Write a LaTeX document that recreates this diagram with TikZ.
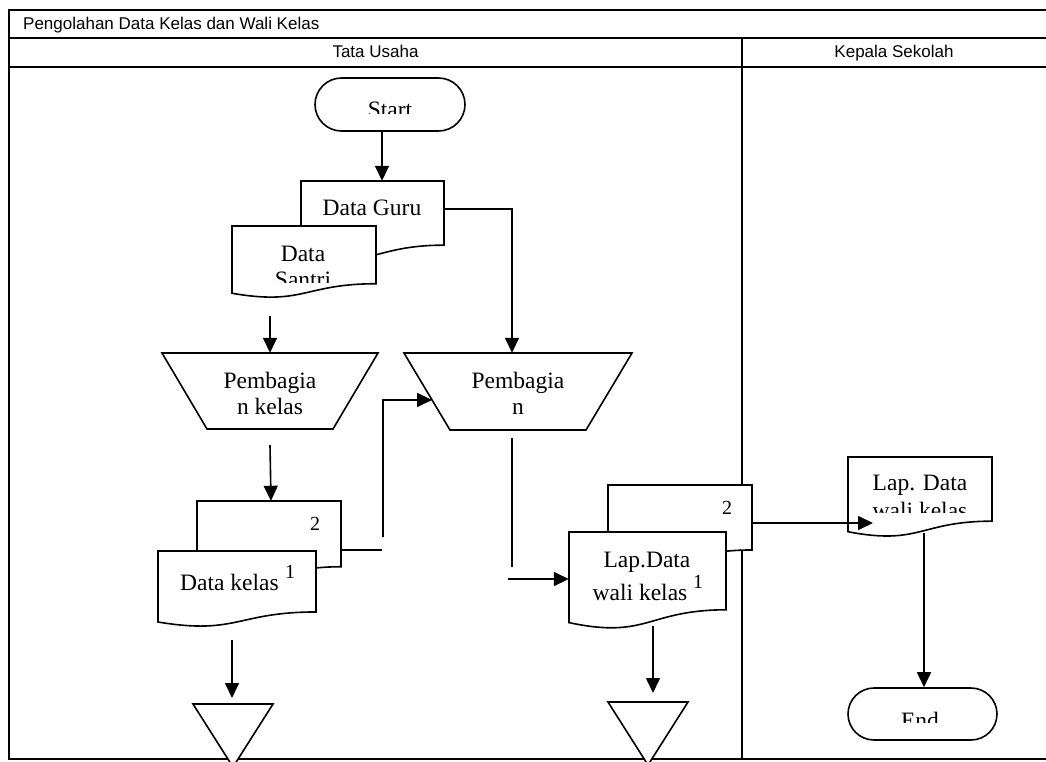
\documentclass[tikz,border=0pt]{standalone}
\usepackage{fontspec}
\setmainfont{Liberation Serif}
\newfontfamily\lanesans{Liberation Sans}
\usetikzlibrary{arrows.meta,calc}

\tikzset{
  frameline/.style={line width=2.6pt},
  shapeline/.style={draw, line width=1.6pt, fill=white},
  flow/.style={line width=1.6pt, -{Triangle[length=15pt,width=14pt]}},
  plain/.style={line width=1.6pt},
  lanefont/.style={font=\lanesans\fontsize{17}{20}\selectfont, inner sep=0pt},
  shapefont/.style={font=\fontsize{23.5}{26}\selectfont, inner sep=0pt},
  numfont/.style={font=\fontsize{20}{22}\selectfont, inner sep=0pt},
}

% document symbol: name, left x, top y, width, height
\newcommand\docbox[5]{%
  \draw[shapeline] (#2,#3) -- ({#2+#4},#3) -- ({#2+#4},{#3+0.802*#5})
    .. controls ({#2+#4/2},{#3+0.802*#5}) and ({#2+#4/2},{#3+1.108*#5}) .. (#2,{#3+0.934*#5}) -- cycle;
  \node[inner sep=0pt, minimum width=#4pt, minimum height={0.8*#5pt}] (#1) at ({#2+#4/2},{#3+0.4*#5}) {};
}
% manual operation: name, top y, top left, top right, bottom y, bottom left, bottom right
\newcommand\trapbox[7]{%
  \draw[shapeline] (#3,#2) -- (#4,#2) -- (#7,#5) -- (#6,#5) -- cycle;
  \coordinate (#1-tl) at (#3,#2);
  \coordinate (#1-bl) at (#6,#5);
  \node[inner sep=0pt, minimum width={(#4-#3)*1pt}, minimum height={(#5-#2)*1pt}] (#1) at ({(#3+#4)/2},{(#2+#5)/2}) {};
}
% off-page connector: name, left x, right x, top y, apex y
\newcommand\offpage[5]{%
  \draw[shapeline] (#2,#4) -- (#3,#4) -- ({(#2+#3)/2},#5) -- cycle;
  \coordinate (#1) at ({(#2+#3)/2},#4);
}

\begin{document}
\begin{tikzpicture}[x=1pt,y=-1pt]
\useasboundingbox (0,0) rectangle (1046,761);
\begin{scope}
\clip (0,0) rectangle (1046,761);

% swimlane frame
\draw[frameline] (1050,10) -- (9,10) -- (9,759) -- (1050,759);
\draw[frameline] (9,38) -- (1050,38);
\draw[frameline] (9,67) -- (1050,67);
\draw[frameline] (742,38) -- (742,759);
\node[lanefont, anchor=base west] (title) at (23,29.5) {Pengolahan Data Kelas dan Wali Kelas};
\node[lanefont, anchor=base] (laneTU) at (375.5,57.5) {Tata Usaha};
\node[lanefont, anchor=base] (laneKS) at (894,57.5) {Kepala Sekolah};

% start
\node[shapeline, rounded corners=26.5pt, minimum width=150pt, minimum height=53pt, inner sep=0pt] (start) at (390,104.5) {};
\begin{scope}
  \clip (300,70) rectangle (480,113);
  \node[shapefont, anchor=base] (startlbl) at (390,117.6) {Start};
\end{scope}

% input documents
\docbox{guru}{301}{181}{143}{80}
\node[shapefont, anchor=base] (gurulbl) at (372,215) {Data Guru};
\docbox{santri}{232}{226}{144}{72}
\node[shapefont, anchor=base] (santrilbl) at (303,261) {Data};
\begin{scope}
  \clip (232,262) rectangle (376,282);
  \node[shapefont, anchor=base] (santrilbl2) at (303,287) {Santri};
\end{scope}

% manual operations
\trapbox{pk}{353}{162}{378}{429}{207}{333}
\node[shapefont, anchor=base] (pklbl1) at (270,388) {Pembagia};
\node[shapefont, anchor=base] (pklbl2) at (270,414) {n kelas};
\trapbox{pb}{353}{404}{632}{430}{450}{586}
\node[shapefont, anchor=base] (pblbl1) at (518,388) {Pembagia};
\node[shapefont, anchor=base] (pblbl2) at (518,414) {n};

% class data, two copies
\docbox{dk2}{197}{501}{144}{82}
\node[numfont, anchor=base] (dk2num) at (315,530) {2};
\docbox{dk1}{158}{551}{158}{76}
\node[shapefont, anchor=base west] (dk1lbl) at (180,590) {Data kelas};
\node[numfont, anchor=base] (dk1num) at (290,578) {1};

% homeroom report, two copies
\docbox{ld2}{608}{485}{144}{81}
\node[numfont, anchor=base] (ld2num) at (727,514) {2};
\docbox{ld1}{569}{532}{157}{97}
\node[shapefont, anchor=base] (ld1lbl1) at (647,567) {Lap.Data};
\node[shapefont, anchor=base] (ld1lbl2) at (640,600) {wali kelas};
\node[numfont, anchor=base] (ld1num) at (698,588) {1};

% report received by the principal
\docbox{lk}{848}{457}{144}{80}
\node[shapefont, anchor=base] (lklbl1) at (920,490) {Lap. Data};
\begin{scope}
  \clip (848,492) rectangle (992,512);
  \node[shapefont, anchor=base] (lklbl2) at (920,518) {wali kelas};
\end{scope}

% end
\node[shapeline, rounded corners=26pt, minimum width=149pt, minimum height=52pt, inner sep=0pt] (end) at (922.5,714) {};
\begin{scope}
  \clip (848,700) rectangle (997,722);
  \node[shapefont, anchor=base] (endlbl) at (920,728.6) {End};
\end{scope}

% off-page connectors
\offpage{t1}{193}{273}{704}{767}
\offpage{t2}{608}{688}{702}{765}

% connector end points
\coordinate (s1) at (270,316);
\coordinate (c1) at (382,550);
\coordinate (c2) at (383,537);
\coordinate (c3) at (383,400);
\coordinate (pbin) at ($(pb-tl)!0.61!(pb-bl)$);
\coordinate (c4) at (512,567);
\coordinate (c5) at (508,579);
\coordinate (c6) at (873,523);
\coordinate (lkb) at (924,533);
\coordinate (d1) at (232,640);
\coordinate (d2) at (653,626);

% connectors
\draw[flow] ([xshift=-8pt]start.south) -- ([xshift=-8pt]start.south |- guru.north);
\draw[flow] ([yshift=4pt]guru.east) -| ([xshift=-6pt]pb.north);
\draw[flow] (s1) -- (pk.north);
\draw[flow] ([yshift=-16pt]pk.south) -- ([xshift=1pt]pk.south |- dk2.north);
\draw[plain] (dk2.east |- c1) -- (c1);
\draw[flow] (c2) -- (c3) -- (pbin);
\draw[plain] ([xshift=-6pt,yshift=-8pt]pb.south) -- (c4);
\draw[flow] (c5) -- (c5 -| ld1.west);
\draw[flow] (ld2.east |- c6) -- (c6);
\draw[flow] (lkb) -- (lkb |- end.north);
\draw[flow] (d1) -- ([yshift=6pt]d1 |- t1);
\draw[flow] (d2) -- ([yshift=9pt]d2 |- t2);
\end{scope}
\end{tikzpicture}
\end{document}
